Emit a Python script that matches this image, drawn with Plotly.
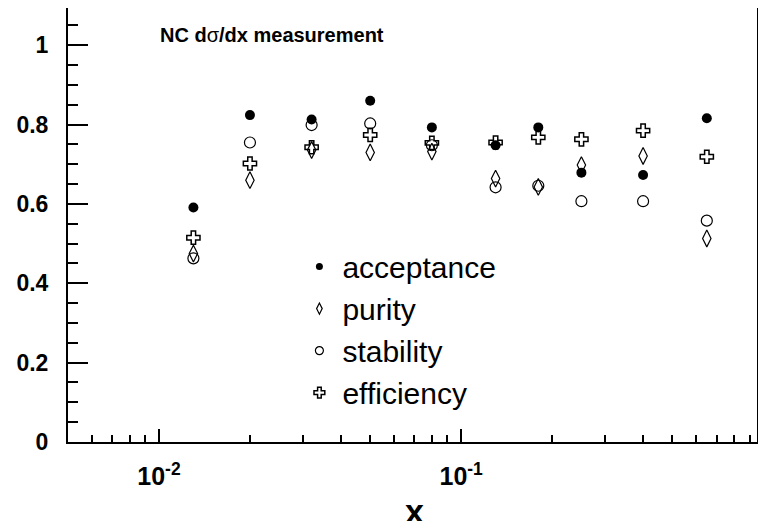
import plotly.graph_objects as go

# bin centres in x
x_bins = [0.013, 0.02, 0.032, 0.05, 0.08, 0.13, 0.18, 0.25, 0.40, 0.65]

acceptance = [0.591, 0.824, 0.813, 0.860, 0.793, 0.748, 0.793, 0.679, 0.673, 0.816]
purity = [0.475, 0.660, 0.736, 0.730, 0.732, 0.664, 0.643, 0.698, 0.721, 0.513]
stability = [0.463, 0.755, 0.799, 0.803, 0.748, 0.642, 0.646, 0.607, 0.607, 0.558]
efficiency = [0.515, 0.702, 0.743, 0.774, 0.754, 0.755, 0.768, 0.763, 0.785, 0.719]

x_tickvals = [0.01, 0.1, 1]
x_ticktext = ["10<sup>-2</sup>", "10<sup>-1</sup>", "1"]
x_minor = [0.005, 0.006, 0.007, 0.008, 0.009,
           0.02, 0.03, 0.04, 0.05, 0.06, 0.07, 0.08, 0.09,
           0.2, 0.3, 0.4, 0.5, 0.6, 0.7, 0.8, 0.9]

FONT = "Liberation Sans, Arial, sans-serif"

series = [
    ("acceptance", acceptance, dict(symbol="circle", color="black", size=10)),
    ("purity", purity, dict(symbol="diamond-tall-open", color="black", size=12,
                            line=dict(width=1.2, color="black"))),
    ("stability", stability, dict(symbol="circle-open", color="black", size=11,
                                  line=dict(width=1.2, color="black"))),
    ("efficiency", efficiency, dict(symbol="cross-open", color="black", size=11,
                                    line=dict(width=1.5, color="black"))),
]

legend_size = {"acceptance": 7, "purity": 8, "stability": 8, "efficiency": 9}

fig = go.Figure()

for name, vals, mk in series:
    fig.add_trace(go.Scatter(x=x_bins, y=vals, mode="markers", name=name,
                             marker=mk, showlegend=False))

# legend-only entries with smaller symbols, like the original
for name, vals, mk in series:
    lm = dict(mk)
    lm["size"] = legend_size[name]
    fig.add_trace(go.Scatter(x=[None], y=[None], mode="markers", name=name,
                             marker=lm, showlegend=True))

fig.add_annotation(
    text="NC d<span style='font-weight:normal'>σ</span>/dx measurement",
    xref="paper", yref="paper", x=0.13, y=0.938,
    xanchor="left", yanchor="middle", showarrow=False,
    font=dict(family=FONT, size=20, color="black", weight="bold"))

# axis title as an annotation so it sits where the original has it
fig.add_annotation(
    text="x", xref="paper", yref="paper", x=0.503, y=-0.158,
    xanchor="center", yanchor="middle", showarrow=False,
    font=dict(family=FONT, size=34, color="black", weight="bold"))

# page body has an 8px margin, so the figure is sized to fit inside the window
fig.update_layout(
    width=750, height=513,
    margin=dict(l=60, r=1, t=0, b=79),
    plot_bgcolor="white",
    paper_bgcolor="white",
    showlegend=True,
    legend=dict(x=0.3315, y=0.464, xanchor="left", yanchor="top",
                itemwidth=36,
                bgcolor="rgba(0,0,0,0)",
                font=dict(family=FONT, size=30, color="black")),
    xaxis=dict(
        type="log",
        range=[-2.30103, -0.021],
        tickvals=x_tickvals, ticktext=x_ticktext,
        ticks="inside", ticklen=13, tickwidth=2, tickcolor="black",
        minor=dict(tickvals=x_minor, ticks="inside", ticklen=7,
                   tickwidth=2, tickcolor="black"),
        showline=True, linewidth=2, linecolor="black", mirror=True,
        showgrid=False, zeroline=False, automargin=False,
        ticklabelstandoff=11,
        tickfont=dict(family=FONT, size=25, color="black", weight="bold"),
    ),
    yaxis=dict(
        range=[0, 1.094],
        tickvals=[0, 0.2, 0.4, 0.6, 0.8, 1],
        ticktext=["0", "0.2", "0.4", "0.6", "0.8", "1"],
        ticks="inside", ticklen=20, tickwidth=2, tickcolor="black",
        minor=dict(dtick=0.05, ticks="inside", ticklen=10,
                   tickwidth=2, tickcolor="black"),
        showline=True, linewidth=2, linecolor="black", mirror=True,
        showgrid=False, zeroline=False, automargin=False,
        ticklabelstandoff=13,
        tickfont=dict(family=FONT, size=23, color="black", weight="bold"),
    ),
)

fig.write_html("out.html")
